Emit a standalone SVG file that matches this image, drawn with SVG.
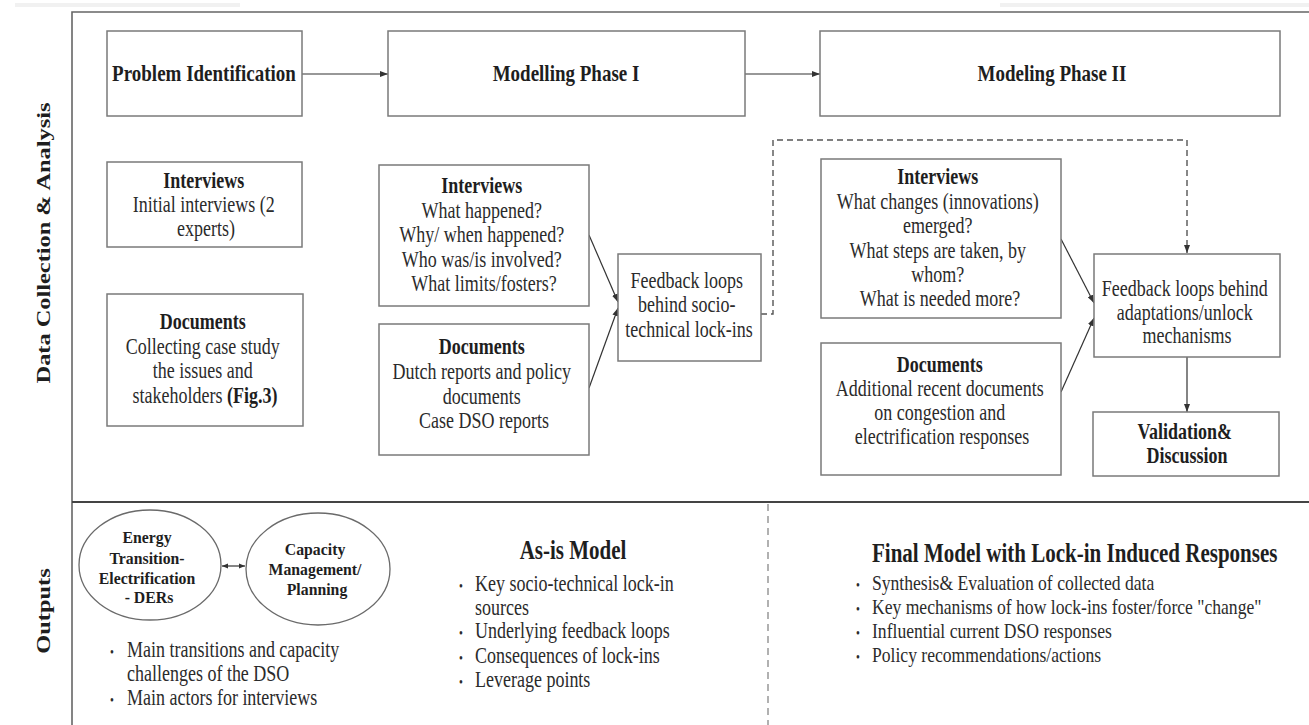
<svg xmlns="http://www.w3.org/2000/svg" width="1309" height="725" viewBox="0 0 1309 725">
  <style>
    text { font-family: "Liberation Serif", "Times New Roman", serif; fill: #2b2b2b; }
    .t { font-size: 18px; text-anchor: middle; }
    .l { font-size: 18px; text-anchor: start; }
    .s { font-size: 17.6px; text-anchor: start; }
    .h { font-size: 19px; font-weight: bold; text-anchor: middle; fill: #1e1e1e; }
    .e { font-size: 15.8px; font-weight: bold; text-anchor: middle; fill: #1e1e1e; }
    .v { font-size: 19.5px; font-weight: bold; text-anchor: middle; fill: #1e1e1e; }
    .big { font-size: 21px; font-weight: bold; fill: #1e1e1e; }
    .b { font-weight: bold; fill: #1e1e1e; }
    .dot { font-size: 11px; }
    .box { fill: #fff; stroke: #7a7a7a; stroke-width: 1.5; }
    .ell { fill: #fff; stroke: #6a6a6a; stroke-width: 1.3; }
    .frame { stroke: #666; stroke-width: 1.6; fill: none; }
    .sep { stroke: #444; stroke-width: 2.2; fill: none; }
    .link { stroke: #333; stroke-width: 1.2; fill: none; }
    .dash { stroke: #555; stroke-width: 1.4; fill: none; stroke-dasharray: 6 4; }
    .div { stroke: #888; stroke-width: 1.3; fill: none; stroke-dasharray: 7 5; }
  </style>
  <defs>
    <marker id="arr" viewBox="0 0 8 6" refX="8" refY="3" markerWidth="8" markerHeight="6" markerUnits="userSpaceOnUse" orient="auto">
      <path d="M0,0 L8,3 L0,6 z" fill="#333"/>
    </marker>
    <marker id="arrS" viewBox="0 0 6 6" refX="6" refY="3" markerWidth="6" markerHeight="6" markerUnits="userSpaceOnUse" orient="auto-start-reverse">
      <path d="M0,0.5 L6,3 L0,5.5 z" fill="#333"/>
    </marker>
  </defs>

  <rect width="1309" height="725" fill="#fff"/>
  <!-- faint strips along the top edge -->
  <rect x="15" y="3" width="225" height="4" fill="#f1f1f1"/>
  <rect x="1000" y="3" width="309" height="4" fill="#f1f1f1"/>

  <!-- frame -->
  <g id="frame">
    <path class="frame" d="M72,725 V12 H1309"/>
    <path class="sep" d="M72,502 H1309"/>
    <path class="div" d="M768,504 V725"/>
    <text class="v" transform="translate(50 243) scale(1 1.25) rotate(-90)">Data Collection &amp; Analysis</text>
    <text class="v" transform="translate(50 611) scale(1 1.25) rotate(-90)">Outputs</text>
  </g>

  <!-- connectors -->
  <g id="connectors">
    <path class="link" d="M302,74 H388" marker-end="url(#arr)"/>
    <path class="link" d="M745,74 H820" marker-end="url(#arr)"/>
    <path class="link" d="M589,235 L618,302" marker-end="url(#arr)"/>
    <path class="link" d="M589,388 L618,308" marker-end="url(#arr)"/>
    <path class="dash" d="M761,314 H773 V140 H1187 V253" marker-end="url(#arr)"/>
    <path class="link" d="M1061,239 L1094,303" marker-end="url(#arr)"/>
    <path class="link" d="M1061,392 L1094,318" marker-end="url(#arr)"/>
    <path class="link" d="M1187,357 V412" marker-end="url(#arr)"/>
    <path class="link" d="M222,566 H245" marker-start="url(#arrS)" marker-end="url(#arrS)"/>
  </g>

  <!-- phase headers -->
  <g id="problem-identification">
    <rect class="box" x="107" y="31" width="195" height="85"/>
    <text class="h" transform="translate(204 81) scale(1 1.25)">Problem Identification</text>
  </g>
  <g id="modelling-phase-1">
    <rect class="box" x="388" y="31" width="357" height="85"/>
    <text class="h" transform="translate(566 81) scale(1 1.25)">Modelling Phase I</text>
  </g>
  <g id="modelling-phase-2">
    <rect class="box" x="820" y="31" width="460" height="85"/>
    <text class="h" transform="translate(1052 81) scale(1 1.25)">Modeling Phase II</text>
  </g>

  <!-- problem identification inputs -->
  <g id="initial-interviews">
    <rect class="box" x="107" y="162" width="195" height="85"/>
    <text class="t" transform="translate(206 188) scale(1 1.25)">
      <tspan class="b" x="0" y="0">Interviews</tspan>
      <tspan x="0" y="19.2">Initial interviews (2</tspan>
      <tspan x="0" y="38.4">experts)</tspan>
    </text>
  </g>
  <g id="case-documents">
    <rect class="box" x="107" y="294" width="196" height="132"/>
    <text class="t" transform="translate(205 329) scale(1 1.25)">
      <tspan class="b" x="0" y="0">Documents</tspan>
      <tspan x="0" y="20">Collecting case study</tspan>
      <tspan x="0" y="39.2">the issues and</tspan>
      <tspan x="0" y="59.2">stakeholders <tspan class="b">(Fig.3)</tspan></tspan>
    </text>
  </g>

  <!-- phase I inputs -->
  <g id="phase1-interviews">
    <rect class="box" x="379" y="165" width="210" height="141"/>
    <text class="t" transform="translate(484 193) scale(1 1.25)">
      <tspan class="b" x="0" y="0">Interviews</tspan>
      <tspan x="0" y="20">What happened?</tspan>
      <tspan x="0" y="39.2">Why/ when happened?</tspan>
      <tspan x="0" y="59.2">Who was/is involved?</tspan>
      <tspan x="0" y="78.4">What limits/fosters?</tspan>
    </text>
  </g>
  <g id="phase1-documents">
    <rect class="box" x="379" y="324" width="210" height="131"/>
    <text class="t" transform="translate(484 354) scale(1 1.25)">
      <tspan class="b" x="0" y="0">Documents</tspan>
      <tspan x="0" y="20">Dutch reports and policy</tspan>
      <tspan x="0" y="40">documents</tspan>
      <tspan x="0" y="59.2">Case DSO reports</tspan>
    </text>
  </g>
  <g id="lockin-loops">
    <rect class="box" x="618" y="254" width="143" height="107"/>
    <text class="t" transform="translate(689 288) scale(1 1.25)">
      <tspan x="0" y="0">Feedback loops</tspan>
      <tspan x="0" y="19.2">behind socio-</tspan>
      <tspan x="0" y="39.2">technical lock-ins</tspan>
    </text>
  </g>

  <!-- phase II inputs -->
  <g id="phase2-interviews">
    <rect class="box" x="821" y="159" width="240" height="159"/>
    <text class="t" transform="translate(940 184) scale(1 1.25)">
      <tspan class="b" x="0" y="0">Interviews</tspan>
      <tspan x="0" y="20">What changes (innovations)</tspan>
      <tspan x="0" y="39.2">emerged?</tspan>
      <tspan x="0" y="59.2">What steps are taken, by</tspan>
      <tspan x="0" y="78.4">whom?</tspan>
      <tspan x="0" y="97.6">What is needed more?</tspan>
    </text>
  </g>
  <g id="phase2-documents">
    <rect class="box" x="821" y="343" width="240" height="132"/>
    <text class="t" transform="translate(942 372) scale(1 1.25)">
      <tspan class="b" x="0" y="0">Documents</tspan>
      <tspan x="0" y="19.2">Additional recent documents</tspan>
      <tspan x="0" y="38.4">on congestion and</tspan>
      <tspan x="0" y="57.6">electrification responses</tspan>
    </text>
  </g>
  <g id="unlock-loops">
    <rect class="box" x="1094" y="254" width="186" height="103"/>
    <text class="t" transform="translate(1187 296) scale(1 1.25)">
      <tspan x="0" y="0">Feedback loops behind</tspan>
      <tspan x="0" y="19.2">adaptations/unlock</tspan>
      <tspan x="0" y="37.6">mechanisms</tspan>
    </text>
  </g>
  <g id="validation">
    <rect class="box" x="1093" y="412" width="186" height="64"/>
    <text class="t b" transform="translate(1187 439) scale(1 1.25)">
      <tspan x="0" y="0">Validation&amp;</tspan>
      <tspan x="0" y="19.2">Discussion</tspan>
    </text>
  </g>

  <!-- outputs -->
  <g id="energy-transition">
    <ellipse class="ell" cx="150" cy="565" rx="71" ry="55"/>
    <text class="e" transform="translate(149 543) scale(1 1.12)">
      <tspan x="0" y="0">Energy</tspan>
      <tspan x="0" y="18.7">Transition-</tspan>
      <tspan x="0" y="36.6">Electrification</tspan>
      <tspan x="0" y="53.6">- DERs</tspan>
    </text>
  </g>
  <g id="capacity-management">
    <ellipse class="ell" cx="318" cy="569" rx="72" ry="56"/>
    <text class="e" transform="translate(317 555) scale(1 1.12)">
      <tspan x="0" y="0">Capacity</tspan>
      <tspan x="0" y="17.9">Management/</tspan>
      <tspan x="0" y="35.7">Planning</tspan>
    </text>
  </g>
  <g id="problem-outputs">
    <text class="l" transform="translate(127 657) scale(1 1.25)">
      <tspan class="dot" x="-17" y="0">•</tspan>
      <tspan x="0" y="0">Main transitions and capacity</tspan>
      <tspan x="0" y="19.2">challenges of the DSO</tspan>
      <tspan class="dot" x="-17" y="38.4">•</tspan>
      <tspan x="0" y="38.4">Main actors for interviews</tspan>
    </text>
  </g>
  <g id="as-is-model">
    <text class="big" text-anchor="middle" transform="translate(573 559) scale(1 1.25)">As-is Model</text>
    <text class="l" transform="translate(475 591) scale(1 1.25)">
      <tspan class="dot" x="-16" y="0">•</tspan>
      <tspan x="0" y="0">Key socio-technical lock-in</tspan>
      <tspan x="0" y="19.2">sources</tspan>
      <tspan class="dot" x="-16" y="37.6">•</tspan>
      <tspan x="0" y="37.6">Underlying feedback loops</tspan>
      <tspan class="dot" x="-16" y="57.6">•</tspan>
      <tspan x="0" y="57.6">Consequences of lock-ins</tspan>
      <tspan class="dot" x="-16" y="76.8">•</tspan>
      <tspan x="0" y="76.8">Leverage points</tspan>
    </text>
  </g>
  <g id="final-model">
    <text class="big" font-size="20.5" transform="translate(872 562) scale(1 1.25)">Final Model with Lock-in Induced Responses</text>
    <text class="s" transform="translate(872 590) scale(1 1.25)">
      <tspan class="dot" x="-16" y="0">•</tspan>
      <tspan x="0" y="0">Synthesis&amp; Evaluation of collected data</tspan>
      <tspan class="dot" x="-16" y="19.2">•</tspan>
      <tspan x="0" y="19.2">Key mechanisms of how lock-ins foster/force "change"</tspan>
      <tspan class="dot" x="-16" y="38.4">•</tspan>
      <tspan x="0" y="38.4">Influential current DSO responses</tspan>
      <tspan class="dot" x="-16" y="57.6">•</tspan>
      <tspan x="0" y="57.6">Policy recommendations/actions</tspan>
    </text>
  </g>
</svg>
